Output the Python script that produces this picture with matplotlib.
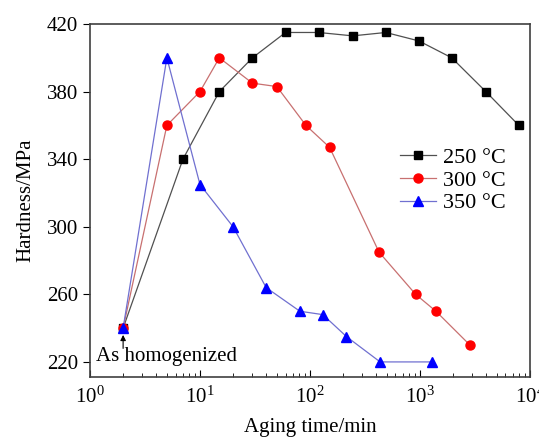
import numpy as np
import matplotlib
matplotlib.use("Agg")
import matplotlib.pyplot as plt
from matplotlib.ticker import LogLocator, NullFormatter

# aging data
t_250 = [2, 7, 15, 30, 60, 120, 245, 490, 980, 1950, 3980, 7940]
h_250 = [240, 340, 380, 400, 415, 415, 413, 415, 410, 400, 380, 360]
t_300 = [2, 5, 10, 15, 30, 50, 92, 151, 425, 915, 1400, 2850]
h_300 = [240, 360, 380, 400, 385, 383, 360, 347, 285, 260, 250, 230]
t_350 = [2, 5, 10, 20, 40, 81, 131, 215, 435, 1300]
h_350 = [240, 400, 325, 300, 264, 250, 248, 235, 220, 220]
y_ticks = [220, 260, 300, 340, 380, 420]

plt.rcParams['font.family'] = ['Liberation Serif', 'DejaVu Serif']
plt.rcParams['mathtext.fontset'] = 'stix'

fig = plt.figure(figsize=(5.39, 4.37), dpi=100)
ax = fig.add_axes([0.167, 0.137, 0.816, 0.808])

ax.plot(t_250, h_250, color='#505050', lw=0.9, marker='s', ms=6,
        mfc='black', mec='black', label='250 \u00b0C')
ax.plot(t_300, h_300, color='#c87070', lw=0.9, marker='o', ms=6.5,
        mfc='red', mec='red', label='300 \u00b0C')
ax.plot(t_350, h_350, color='#7070d0', lw=0.9, marker='^', ms=6.5,
        mfc='blue', mec='blue', label='350 \u00b0C')

ax.set_xscale('log')
ax.set_xlim(1, 1e4)
ax.set_ylim(211, 420)
ax.set_yticks(y_ticks)
ax.xaxis.set_minor_locator(LogLocator(base=10, subs=np.arange(2, 10)))
ax.xaxis.set_minor_formatter(NullFormatter())
ax.tick_params(axis='x', which='major', direction='in', length=5, labelsize=15, pad=7)
ax.tick_params(axis='x', which='minor', direction='in', length=3)
ax.tick_params(axis='y', direction='out', length=5, labelsize=15)
for s in ax.spines.values():
    s.set_color('#404040')
    s.set_linewidth(1.2)

ax.set_xlabel('Aging time/min', fontsize=15, labelpad=7)
ax.set_ylabel('Hardness/MPa', fontsize=15, labelpad=8)

ax.text(1.14, 223, 'As homogenized', fontsize=15, ha='left', va='center')
ax.annotate('', xy=(2, 236), xytext=(2, 228),
            arrowprops=dict(arrowstyle='-|>', color='black', lw=0.8,
                            shrinkA=0, shrinkB=0, mutation_scale=8))

ax.legend(loc='upper right', bbox_to_anchor=(0.98, 0.695), frameon=False,
          fontsize=16, handlelength=1.6, handletextpad=0.3, labelspacing=0.1,
          borderpad=0.2)

fig.savefig('out.png', dpi=100)
